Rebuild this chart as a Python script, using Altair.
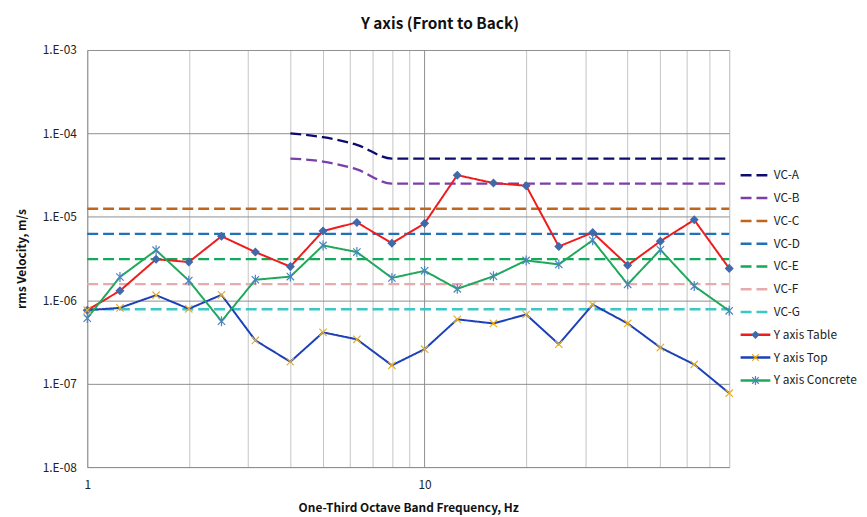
import altair as alt
import pandas as pd

FONT = "Noto Sans CJK KR"

# ---- data ----
freq = [1, 1.25, 1.6, 2, 2.5, 3.15, 4, 5, 6.3, 8, 10, 12.5, 16, 20, 25, 31.5, 40, 50, 63, 80]

table = [7.6e-7, 1.3e-6, 3.1e-6, 2.87e-6, 5.85e-6, 3.78e-6, 2.53e-6, 6.76e-6, 8.57e-6, 4.83e-6,
         8.35e-6, 3.16e-5, 2.54e-5, 2.36e-5, 4.41e-6, 6.47e-6, 2.63e-6, 5.1e-6, 9.2e-6, 2.41e-6]
top = [7.6e-7, 8.1e-7, 1.15e-6, 7.9e-7, 1.16e-6, 3.3e-7, 1.83e-7, 4.12e-7, 3.4e-7, 1.66e-7,
       2.59e-7, 5.9e-7, 5.27e-7, 6.75e-7, 2.97e-7, 8.87e-7, 5.27e-7, 2.71e-7, 1.7e-7, 7.7e-8]
concrete = [6.1e-7, 1.9e-6, 3.98e-6, 1.72e-6, 5.6e-7, 1.76e-6, 1.92e-6, 4.54e-6, 3.78e-6, 1.85e-6,
            2.25e-6, 1.37e-6, 1.94e-6, 3.0e-6, 2.69e-6, 5.24e-6, 1.55e-6, 4.03e-6, 1.48e-6, 7.47e-7]

vc_ab_freq = [4, 5, 6.3, 8, 10, 12.5, 16, 20, 25, 31.5, 40, 50, 63, 80]
vc_a = [1.0e-4, 9.0e-5, 7.3e-5, 5.0e-5, 5.0e-5, 5.0e-5, 5.0e-5, 5.0e-5, 5.0e-5, 5.0e-5,
        5.0e-5, 5.0e-5, 5.0e-5, 5.0e-5]
vc_b = [5.0e-5, 4.6e-5, 3.7e-5, 2.5e-5, 2.5e-5, 2.5e-5, 2.5e-5, 2.5e-5, 2.5e-5, 2.5e-5,
        2.5e-5, 2.5e-5, 2.5e-5, 2.5e-5]

vc_flat_names = ["VC-C", "VC-D", "VC-E", "VC-F", "VC-G"]
vc_flat_levels = [1.25e-5, 6.25e-6, 3.12e-6, 1.56e-6, 7.8e-7]

series_names = ["VC-A", "VC-B", "VC-C", "VC-D", "VC-E", "VC-F", "VC-G",
                "Y axis Table", "Y axis Top", "Y axis Concrete"]
line_colors = ["#0c0c6e", "#7a3fa8", "#c0651e", "#1f72b8", "#14a85a", "#e8abab", "#3cc6c6",
               "#ee1c1c", "#1c40b8", "#1fa85c"]
dash_styles = [[11, 5]] * 7 + [[1, 0]] * 3

marker_names = ["Y axis Table", "Y axis Top", "Y axis Concrete"]
marker_shapes = ["diamond", "M-1,-1L1,1M1,-1L-1,1", "M-1,-1L1,1M1,-1L-1,1M0,-1.35L0,1.35"]
marker_fills = ["#4169aa", "transparent", "transparent"]
marker_strokes = ["#4169aa", "#e4b02a", "#4a84bf"]

x_grid = [1, 2, 3, 4, 5, 6, 7, 8, 9, 10, 20, 30, 40, 50, 60, 70, 80]
y_ticks = [1e-8, 1e-7, 1e-6, 1e-5, 1e-4, 1e-3]

# ---- tables ----
curves_df = pd.DataFrame(
    [{"series": "VC-A", "f": f, "v": v} for f, v in zip(vc_ab_freq, vc_a)]
    + [{"series": "VC-B", "f": f, "v": v} for f, v in zip(vc_ab_freq, vc_b)]
)
flat_df = pd.DataFrame(
    [{"series": n, "f": f, "v": lvl} for n, lvl in zip(vc_flat_names, vc_flat_levels) for f in freq]
)
data_df = pd.DataFrame(
    [{"series": "Y axis Table", "f": f, "v": v} for f, v in zip(freq, table)]
    + [{"series": "Y axis Top", "f": f, "v": v} for f, v in zip(freq, top)]
    + [{"series": "Y axis Concrete", "f": f, "v": v} for f, v in zip(freq, concrete)]
)

# ---- shared encodings ----
X = alt.X(
    "f:Q",
    scale=alt.Scale(type="log", domain=[1, 80], nice=False),
    axis=alt.Axis(
        values=x_grid,
        labelExpr="datum.value == 1 || datum.value == 10 ? format(datum.value, 'd') : ''",
        title="One-Third Octave Band Frequency, Hz",
        titleFont=FONT, titleFontSize=12, titleFontWeight="bold", titleColor="#111",
        labelFont=FONT, labelFontSize=12, labelColor="#222",
        labelFlush=False, labelOverlap=False, labelPadding=13,
        ticks=False, tickSize=0,
        grid=True,
        gridColor={"condition": {"test": "datum.value === 10", "value": "#8f8f8f"}, "value": "#c4c4c4"},
        gridWidth=1,
        domainColor="#8f8f8f", titlePadding=12,
    ),
)
Y = alt.Y(
    "v:Q",
    scale=alt.Scale(type="log", domain=[1e-8, 1e-3], nice=False),
    axis=alt.Axis(
        values=y_ticks,
        labelExpr="'1.E-0' + (-round(log(datum.value) / LN10))",
        title="rms Velocity, m/s",
        titleFont=FONT, titleFontSize=12, titleFontWeight="bold", titleColor="#111",
        labelFont=FONT, labelFontSize=12, labelColor="#222",
        labelPadding=11, ticks=False, tickSize=0,
        grid=True, gridColor="#8f8f8f", gridWidth=1,
        domainColor="#8f8f8f", titlePadding=14,
    ),
)

ROW_H = 23
LEG_X = 658
LEG_Y = 115

legend_lines = alt.Legend(
    title=None, orient="none", legendX=LEG_X, legendY=LEG_Y,
    symbolType="stroke", symbolSize=900, symbolStrokeWidth=2.5,
    labelFont=FONT, labelFontSize=12, labelColor="#222", labelOffset=2,
    labelLimit=200, rowPadding=0, clipHeight=ROW_H,
)
COLOR = alt.Color("series:N", scale=alt.Scale(domain=series_names, range=line_colors), legend=legend_lines)
DASH = alt.StrokeDash("series:N", scale=alt.Scale(domain=series_names, range=dash_styles), legend=legend_lines)

curves = alt.Chart(curves_df).mark_line(interpolate="monotone", strokeWidth=2.3).encode(
    x=X, y=Y, color=COLOR, strokeDash=DASH, detail="series:N"
)
flats = alt.Chart(flat_df).mark_line(strokeWidth=2.3).encode(
    x=X, y=Y, color=COLOR, strokeDash=DASH, detail="series:N"
)
lines = alt.Chart(data_df).mark_line(strokeWidth=2).encode(
    x=X, y=Y, color=COLOR, strokeDash=DASH, detail="series:N"
)

legend_marks = alt.Legend(
    title=None, orient="none", legendX=LEG_X + 10.5, legendY=LEG_Y + 7 * ROW_H,
    symbolSize=45, symbolStrokeWidth=1.2,
    labelFont=FONT, labelFontSize=12, labelExpr="''",
    rowPadding=0, clipHeight=ROW_H,
)
points = alt.Chart(data_df).mark_point(filled=False, opacity=1, size=55, strokeWidth=1.2).encode(
    x=X, y=Y,
    shape=alt.Shape("series:N", scale=alt.Scale(domain=marker_names, range=marker_shapes), legend=legend_marks),
    fill=alt.Fill("series:N", scale=alt.Scale(domain=marker_names, range=marker_fills), legend=legend_marks),
    stroke=alt.Stroke("series:N", scale=alt.Scale(domain=marker_names, range=marker_strokes), legend=legend_marks),
)

chart = (
    alt.layer(curves, flats, lines, points)
    .properties(
        width=648, height=421,
        title=alt.TitleParams(
            "Y axis (Front to Back)", font=FONT, fontSize=15.5, fontWeight="bold", color="#111",
            anchor="middle", frame="group", dx=32, dy=22, offset=22, baseline="alphabetic",
        ),
        autosize=alt.AutoSizeParams(type="none"),
        padding={"left": 80, "top": 40, "right": 131, "bottom": 48},
    )
    .configure_view(stroke=None)
    .configure(background="white")
)

chart.save("out.html", embed_options={"renderer": "svg", "actions": False})
